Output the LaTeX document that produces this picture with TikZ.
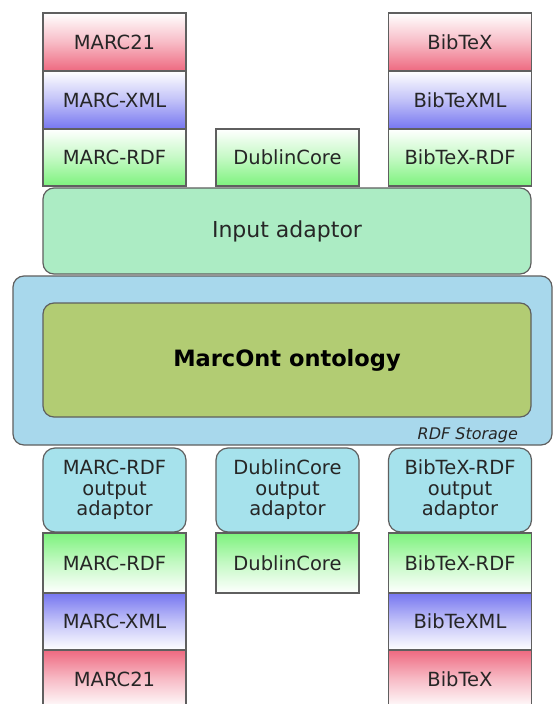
\documentclass[tikz,border=0pt]{standalone}
\usepackage{fontspec}
\setmainfont{DejaVu Sans}
\begin{document}
\begin{tikzpicture}[x=1pt,y=-1pt,
  every node/.style={inner sep=0pt, outer sep=0pt, font=\fontsize{19.5}{20.5}\selectfont, align=center, text=black!85},
  box/.style={draw=bordergray, line width=1.2pt, minimum width=143pt},
  redup/.style={box, top color=white, bottom color=redc, middle color=redc!45},
  reddown/.style={box, top color=redc, bottom color=white, middle color=redc!45},
  blueup/.style={box, top color=white, bottom color=bluec, middle color=bluec!45},
  bluedown/.style={box, top color=bluec, bottom color=white, middle color=bluec!45},
  greenup/.style={box, top color=white, bottom color=greenc, middle color=greenc!45},
  greendown/.style={box, top color=greenc, bottom color=white, middle color=greenc!45},
  outad/.style={draw=bordergray, line width=1.2pt, rounded corners=12pt, fill=outc, minimum width=143pt, minimum height=84pt},
]
\definecolor{bordergray}{RGB}{95,95,95}
\definecolor{redc}{RGB}{238,105,128}
\definecolor{bluec}{RGB}{118,118,240}
\definecolor{greenc}{RGB}{125,242,125}
\definecolor{inputc}{RGB}{172,236,196}
\definecolor{rdfc}{RGB}{168,216,236}
\definecolor{ontoc}{RGB}{178,204,115}
\definecolor{outc}{RGB}{166,226,236}
\useasboundingbox (0,0) rectangle (553,704);
\clip (0,0) rectangle (553,704);
\fill[white] (0,0) rectangle (553,704);

% top stacks
\node[redup, minimum height=58pt] (m21t) at (114.5,42) {MARC21};
\node[blueup, minimum height=58pt] (mxt) at (114.5,100) {MARC-XML};
\node[greenup, minimum height=57pt] (mrt) at (114.5,157.5) {MARC-RDF};
\node[greenup, minimum height=57pt] (dct) at (287.5,157.5) {DublinCore};
\node[redup, minimum height=58pt] (bt) at (460,42) {BibTeX};
\node[blueup, minimum height=58pt] (bxt) at (460,100) {BibTeXML};
\node[greenup, minimum height=57pt] (brt) at (460,157.5) {BibTeX-RDF};

% input adaptor
\node[draw=bordergray, line width=1.2pt, rounded corners=11pt, fill=inputc, minimum width=488pt, minimum height=86pt, font=\fontsize{22}{24}\selectfont] (inp) at (287,231) {Input adaptor};

% RDF storage
\node[draw=bordergray, line width=1.2pt, rounded corners=11pt, fill=rdfc, minimum width=539pt, minimum height=169pt] (rdf) at (282.5,360.5) {};
\node[draw=bordergray, line width=1.2pt, rounded corners=11pt, fill=ontoc, minimum width=488pt, minimum height=114pt, font=\fontsize{22.5}{24}\selectfont\bfseries, text=black] (onto) at (287,360) {MarcOnt ontology};
\node[font=\fontsize{16}{17}\selectfont\itshape, anchor=east] (rdflab) at (518,435) {RDF Storage};

% output adaptors
\node[outad] (mout) at (114.5,490) {MARC-RDF\\output\\adaptor};
\node[outad] (dout) at (287.5,490) {DublinCore\\output\\adaptor};
\node[outad] (bout) at (460,490) {BibTeX-RDF\\output\\adaptor};

% bottom stacks
\node[greendown, minimum height=60pt] (mrb) at (114.5,563) {MARC-RDF};
\node[bluedown, minimum height=57pt] (mxb) at (114.5,621.5) {MARC-XML};
\node[reddown, minimum height=58pt] (m21b) at (114.5,679) {MARC21};
\node[greendown, minimum height=60pt] (dcb) at (287.5,563) {DublinCore};
\node[greendown, minimum height=60pt] (brb) at (460,563) {BibTeX-RDF};
\node[bluedown, minimum height=57pt] (bxb) at (460,621.5) {BibTeXML};
\node[reddown, minimum height=58pt] (bb) at (460,679) {BibTeX};
\end{tikzpicture}
\end{document}
